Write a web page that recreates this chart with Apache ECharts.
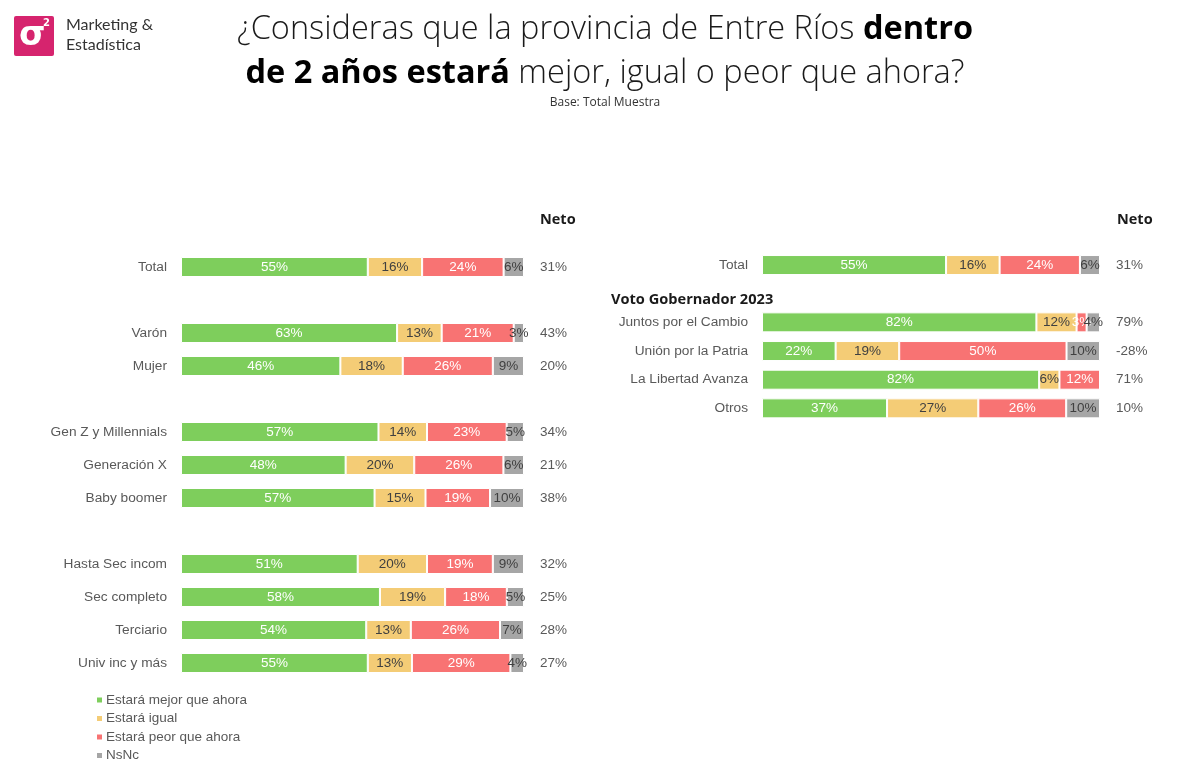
<!DOCTYPE html>
<html>
<head>
<meta charset="utf-8">
<script src="https://cdn.jsdelivr.net/npm/echarts@6/dist/echarts.min.js"></script>
<style>html,body{margin:0;padding:0;background:#fff}#c{width:1200px;height:782px}</style>
</head>
<body>
<div id="c"></div>
<script>
// ---- Data ----
const seriesNames = ['Estará mejor que ahora', 'Estará igual', 'Estará peor que ahora', 'NsNc'];

const catsLeft = ['Total', '', 'Varón', 'Mujer', ' ', 'Gen Z y Millennials', 'Generación X', 'Baby boomer', '  ', 'Hasta Sec incom', 'Sec completo', 'Terciario', 'Univ inc y más'];
const mejorLeft = [55, null, 63, 46, null, 57, 48, 57, null, 51, 58, 54, 55];
const igualLeft = [16, null, 13, 18, null, 14, 20, 15, null, 20, 19, 13, 13];
const peorLeft  = [24, null, 21, 26, null, 23, 26, 19, null, 19, 18, 26, 29];
const nsncLeft  = [6,  null, 3,  9,  null, 5,  6,  10, null, 9,  5,  7,  4];
const netoLeft  = ['31%', '', '43%', '20%', '', '34%', '21%', '38%', '', '32%', '25%', '28%', '27%'];

const catsRight = ['Total', '', 'Juntos por el Cambio', 'Unión por la Patria', 'La Libertad Avanza', 'Otros'];
const mejorRight = [55, null, 82, 22, 82, 37];
const igualRight = [16, null, 12, 19, 6, 27];
const peorRight  = [24, null, 3, 50, 12, 26];
const nsncRight  = [6,  null, 4, 10, 0, 10];
const netoRight  = ['31%', '', '79%', '-28%', '71%', '10%'];

const colors = ['#7ECE5C', '#F4CC76', '#F87373', '#A6A6A6'];
const labelColors = ['#ffffff', '#404040', '#ffffff', '#404040'];

// ---- Build ----
function normalized(arrs) {
  // 100% stacked: each row scaled to its total, label keeps the read value
  return arrs.map((arr, k) => arr.map((v, i) => {
    if (v == null) return null;
    const sum = arrs.reduce((s, a) => s + (a[i] || 0), 0);
    return { value: v * 100 / sum, raw: v };
  }));
}
const leftData = normalized([mejorLeft, igualLeft, peorLeft, nsncLeft]);
const rightData = normalized([mejorRight, igualRight, peorRight, nsncRight]);

const FONT = 'Liberation Sans, Arial, sans-serif';
function makeSeries(dataSets, gridIdx) {
  return dataSets.map((d, k) => ({
    name: seriesNames[k],
    type: 'bar',
    stack: 'g' + gridIdx,
    xAxisIndex: gridIdx,
    yAxisIndex: gridIdx * 2,
    barWidth: 20,
    data: d,
    itemStyle: { color: colors[k], borderColor: '#ffffff', borderWidth: 1 },
    label: {
      show: true, position: 'inside', color: labelColors[k],
      fontFamily: FONT, fontSize: 13.5,
      formatter: p => (p.data && p.data.raw) ? p.data.raw + '%' : ''
    },
    emphasis: { disabled: true }
  }));
}

const catAxisLabel = { color: '#595959', fontFamily: FONT, fontSize: 13.7, margin: 14 };
const netoAxisLabel = { color: '#595959', fontFamily: FONT, fontSize: 13.5, margin: 16 };

const option = {
  animation: false,
  backgroundColor: '#ffffff',
  title: [
    {
      left: 600, top: 3, textAlign: 'center',
      text: '{n|¿Consideras que la provincia de Entre Ríos }{b|dentro}\n{b|de 2 años estará}{n| mejor, igual o peor que ahora?}',
      textStyle: {
        rich: {
          n: { fontFamily: 'Open Sans, sans-serif', fontSize: 32.5, fontWeight: 300, color: '#1a1a1a', lineHeight: 44 },
          b: { fontFamily: 'Open Sans, sans-serif', fontSize: 32.5, fontWeight: 'bold', color: '#000000', lineHeight: 44 }
        }
      }
    },
    {
      left: 600, top: 92, textAlign: 'center', text: 'Base: Total Muestra',
      textStyle: { fontFamily: 'Open Sans, sans-serif', fontSize: 12, fontWeight: 'normal', color: '#333' }
    },
    { left: 535, top: 207, text: 'Neto', textStyle: { fontFamily: 'Open Sans, sans-serif', fontSize: 14.5, fontWeight: 'bold', color: '#1a1a1a' } },
    { left: 1112, top: 207, text: 'Neto', textStyle: { fontFamily: 'Open Sans, sans-serif', fontSize: 14.5, fontWeight: 'bold', color: '#1a1a1a' } },
    { left: 606, top: 287, text: 'Voto Gobernador 2023', textStyle: { fontFamily: 'Open Sans, sans-serif', fontSize: 14.6, fontWeight: 'bold', color: '#1a1a1a' } }
  ],
  graphic: [
    { type: 'rect', left: 14, top: 16, shape: { width: 40, height: 40, r: 2 }, style: { fill: '#D6246E' } },
    { type: 'text', left: 19, top: 19, style: { text: 'σ', fill: '#fff', fontSize: 34, fontWeight: 'bold', fontFamily: 'DejaVu Sans' } },
    { type: 'text', left: 43, top: 18, style: { text: '2', fill: '#fff', fontSize: 10, fontWeight: 'bold', fontFamily: 'DejaVu Sans' } },
    { type: 'text', left: 66, top: 15, style: { text: 'Marketing &\nEstadística', fill: '#333', fontSize: 16, lineHeight: 20, fontFamily: 'Lato, sans-serif' } }
  ],
  legend: {
    orient: 'vertical', left: 90, top: 688,
    itemWidth: 7, itemHeight: 7, itemGap: 4.5, icon: 'rect',
    data: seriesNames,
    textStyle: { color: '#595959', fontFamily: FONT, fontSize: 13.5, padding: [0, 0, 0, -2] },
    selectedMode: false
  },
  grid: [
    { left: 181, width: 343, top: 250.5, height: 429 },
    { left: 762, width: 338, top: 250.7, height: 172 }
  ],
  xAxis: [
    { gridIndex: 0, type: 'value', min: 0, max: 100, show: false },
    { gridIndex: 1, type: 'value', min: 0, max: 100, show: false }
  ],
  yAxis: [
    { gridIndex: 0, type: 'category', inverse: true, data: catsLeft, axisLine: { show: false }, axisTick: { show: false }, axisLabel: catAxisLabel },
    { gridIndex: 0, type: 'category', inverse: true, position: 'right', data: netoLeft, axisLine: { show: false }, axisTick: { show: false }, axisLabel: netoAxisLabel },
    { gridIndex: 1, type: 'category', inverse: true, data: catsRight, axisLine: { show: false }, axisTick: { show: false }, axisLabel: catAxisLabel },
    { gridIndex: 1, type: 'category', inverse: true, position: 'right', data: netoRight, axisLine: { show: false }, axisTick: { show: false }, axisLabel: netoAxisLabel }
  ],
  series: [...makeSeries(leftData, 0), ...makeSeries(rightData, 1)]
};

const chart = echarts.init(document.getElementById('c'), null, { renderer: 'canvas' });
chart.setOption(option);
</script>
</body>
</html>
